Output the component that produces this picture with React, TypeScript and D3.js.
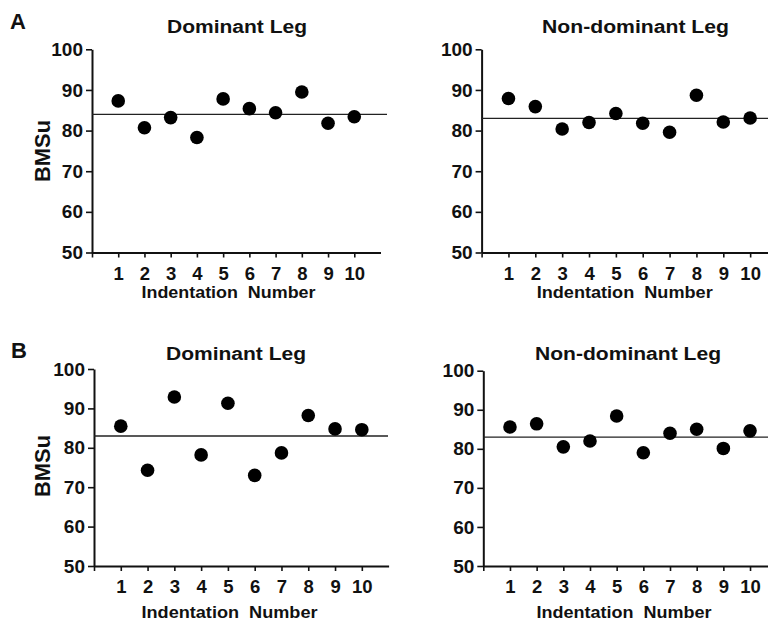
import React, { useEffect, useRef } from "react";
import * as d3 from "d3";

// ---- data ----
const indentations = [1, 2, 3, 4, 5, 6, 7, 8, 9, 10];
const yTicks = [50, 60, 70, 80, 90, 100];
const dominantA = [87.3, 80.7, 83.2, 78.3, 87.8, 85.4, 84.4, 89.5, 81.8, 83.4];
const nonDominantA = [87.9, 85.9, 80.4, 82.0, 84.2, 81.8, 79.6, 88.7, 82.1, 83.1];
const dominantB = [85.5, 74.3, 92.9, 78.2, 91.3, 73.0, 78.7, 88.2, 84.8, 84.6];
const nonDominantB = [85.6, 86.4, 80.5, 82.0, 88.4, 79.0, 84.0, 85.0, 80.1, 84.6];
const meanValues = [84, 83, 83, 83];
const panelTitles = ["Dominant Leg", "Non-dominant Leg", "Dominant Leg", "Non-dominant Leg"];
const panelLetters = ["A", "B"];
const yAxisLabel = "BMSu";
const xAxisLabel = "Indentation Number";

const FONT = "'Liberation Sans', Arial, Helvetica, sans-serif";

// ---- layout (positions only) ----
const layout = [
  { x0: 92, x11: 380.5, y100: 49.3, y50: 252.5, meanEnd: 387, tX: 237, tY: 33, tLen: 140, xtX: 228.5, xtY: 298, xtLen: 174 },
  { x0: 481.6, x11: 777, y100: 49.3, y50: 252.5, meanEnd: 768, tX: 635.5, tY: 33, tLen: 187, xtX: 624.7, xtY: 298, xtLen: 176 },
  { x0: 94, x11: 388.6, y100: 369, y50: 566, meanEnd: 388, tX: 236, tY: 360, tLen: 140, xtX: 229.5, xtY: 618, xtLen: 176 },
  { x0: 483.3, x11: 776.7, y100: 370.7, y50: 566, meanEnd: 768, tX: 628, tY: 360, tLen: 186, xtX: 624, xtY: 618, xtLen: 175 },
];
const series = [dominantA, nonDominantA, dominantB, nonDominantB];

export default function App() {
  const ref = useRef<SVGSVGElement | null>(null);

  useEffect(() => {
    const svg = d3.select(ref.current);
    svg.selectAll("*").remove();

    layout.forEach((p, i) => {
      const g = svg.append("g");
      const x = d3.scaleLinear().domain([0, 11]).range([p.x0, p.x11]);
      const y = d3.scaleLinear().domain([50, 100]).range([p.y50, p.y100]);

      // y axis
      const ya = g
        .append("g")
        .attr("transform", `translate(${p.x0},0)`)
        .call(d3.axisLeft(y).tickValues(yTicks).tickSize(6).tickSizeOuter(0).tickPadding(3).tickFormat(d3.format("d")));
      ya.select(".domain").attr("stroke", "#111").attr("stroke-width", 2);
      ya.selectAll(".tick line").attr("stroke", "#111").attr("stroke-width", 1.6);
      ya.selectAll(".tick text")
        .attr("fill", "#111")
        .attr("font-family", FONT)
        .attr("font-weight", "bold")
        .attr("font-size", 19);

      // x axis
      const xa = g
        .append("g")
        .attr("transform", `translate(0,${p.y50})`)
        .call(
          d3
            .axisBottom(x)
            .tickValues([0, ...indentations])
            .tickSize(5)
            .tickSizeOuter(0)
            .tickFormat((d) => (d === 0 ? "" : String(d)))
        );
      xa.select(".domain").attr("stroke", "#111").attr("stroke-width", 2);
      xa.selectAll(".tick line").attr("stroke", "#111").attr("stroke-width", 1.6);
      xa.selectAll(".tick text")
        .attr("fill", "#111")
        .attr("font-family", FONT)
        .attr("font-weight", "bold")
        .attr("font-size", 18.5)
        .attr("y", 27)
        .attr("dy", 0);

      // mean line
      g.append("line")
        .attr("x1", p.x0)
        .attr("x2", p.meanEnd)
        .attr("y1", y(meanValues[i]))
        .attr("y2", y(meanValues[i]))
        .attr("stroke", "#222")
        .attr("stroke-width", 1.3);

      // dots
      g.selectAll("circle.pt")
        .data(series[i])
        .enter()
        .append("circle")
        .attr("class", "pt")
        .attr("cx", (_d, j) => x(indentations[j]))
        .attr("cy", (d) => y(d))
        .attr("r", 6.8)
        .attr("fill", "#000");

      // title
      g.append("text")
        .attr("x", p.tX)
        .attr("y", p.tY)
        .attr("text-anchor", "middle")
        .attr("font-family", FONT)
        .attr("font-weight", "bold")
        .attr("font-size", 18)
        .attr("textLength", p.tLen)
        .attr("lengthAdjust", "spacingAndGlyphs")
        .attr("fill", "#111")
        .text(panelTitles[i]);

      // x axis title
      g.append("text")
        .attr("x", p.xtX)
        .attr("y", p.xtY)
        .attr("text-anchor", "middle")
        .attr("font-family", FONT)
        .attr("font-weight", "bold")
        .attr("font-size", 16)
        .attr("textLength", p.xtLen)
        .attr("lengthAdjust", "spacingAndGlyphs")
        .attr("fill", "#111")
        .style("white-space", "pre")
        .text(xAxisLabel.replace(" ", "  "));

      // y axis title (left panels only)
      if (i % 2 === 0) {
        g.append("text")
          .attr("transform", `translate(50,${i === 0 ? 151 : 466}) rotate(-90)`)
          .attr("text-anchor", "middle")
          .attr("font-family", FONT)
          .attr("font-weight", "bold")
          .attr("font-size", 22)
          .attr("textLength", 62)
          .attr("lengthAdjust", "spacingAndGlyphs")
          .attr("fill", "#111")
          .text(yAxisLabel);

        g.append("text")
          .attr("x", i === 0 ? 10 : 11)
          .attr("y", i === 0 ? 28.5 : 357.5)
          .attr("font-family", FONT)
          .attr("font-weight", "bold")
          .attr("font-size", 22)
          .attr("fill", "#111")
          .text(panelLetters[i / 2]);
      }
    });
  }, []);

  return (
    <svg
      ref={ref}
      width={768}
      height={620}
      style={{ position: "absolute", left: 0, top: 0, background: "#fff" }}
    />
  );
}
